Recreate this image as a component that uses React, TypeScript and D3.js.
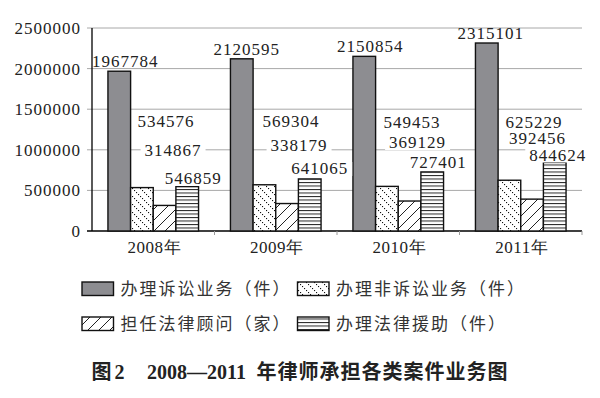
import React from "react";
import * as d3 from "d3";

const years = ["2008年", "2009年", "2010年", "2011年"];
const seriesNames = ["办理诉讼业务（件）", "办理非诉讼业务（件）", "担任法律顾问（家）", "办理法律援助（件）"];
const litigation = [1967784, 2120595, 2150854, 2315101];
const nonLitigation = [534576, 569304, 549453, 625229];
const counsel = [314867, 338179, 369129, 392456];
const legalAid = [546859, 641065, 727401, 844624];
const yTicks = [0, 500000, 1000000, 1500000, 2000000, 2500000];

// label anchors (in value units) as placed in the original figure
const labelAtNonLit = [1280000, 1280000, 1268000, 1268000];
const labelAtCounsel = [924000, 991000, 1022000, 1071000];
const labelAtAid = [579000, 702000, 776000, 868000];
const labelDx = [
  [6, 5, 6, 4],
  [24, 26.5, 25, 24.6],
  [8.5, 12, 8, 5.5],
  [6, 10, 6, 3],
];

const W = 600;
const H = 398;
const serif = "'Liberation Serif', 'Times New Roman', serif";
const cjk = "'Noto Sans CJK SC', 'Noto Sans', sans-serif";
const darkFill = "#8d8d91";

export default function App() {
  const series = [litigation, nonLitigation, counsel, legalAid];
  const fills = [darkFill, "url(#pDots)", "url(#pSlash)", "url(#pHoriz)"];
  const labelAt = [litigation.map((v) => v + 50000), labelAtNonLit, labelAtCounsel, labelAtAid];

  const x = d3.scaleBand<string>().domain(years).range([92, 582]).padding(0);
  const inner = d3
    .scaleBand<number>()
    .domain([0, 1, 2, 3])
    .range([0, x.bandwidth()])
    .paddingInner(0)
    .paddingOuter(0.704);
  const y = d3.scaleLinear().domain([0, 2500000]).range([231, 28]);

  const fmt = (v: number) => String(v);
  const digitW = 9.5;

  const legendItems = [
    { x: 82, y: 282, fill: fills[0], name: seriesNames[0] },
    { x: 297.5, y: 282, fill: fills[1], name: seriesNames[1] },
    { x: 82, y: 317, fill: fills[2], name: seriesNames[2] },
    { x: 297.5, y: 317, fill: fills[3], name: seriesNames[3] },
  ];

  return (
    <svg width={W} height={H} style={{ position: "absolute", left: 0, top: 0, background: "#fff" }}>
      <defs>
        <pattern id="pDots" patternUnits="userSpaceOnUse" width={8} height={8}>
          <rect width={8} height={8} fill="#fff" />
          <rect x={0} y={0} width={1.1} height={1.1} fill="#111" />
          <rect x={2} y={2} width={1.1} height={1.1} fill="#111" />
          <rect x={4} y={4} width={1.1} height={1.1} fill="#111" />
          <rect x={6} y={6} width={1.1} height={1.1} fill="#111" />
        </pattern>
        <pattern id="pSlash" patternUnits="userSpaceOnUse" width={11} height={11}>
          <rect width={11} height={11} fill="#fff" />
          <path d="M0,11 L11,0 M-2,2 L2,-2 M9,13 L13,9" stroke="#222" strokeWidth={1} />
        </pattern>
        <pattern id="pHoriz" patternUnits="userSpaceOnUse" width={10} height={3.5}>
          <rect width={10} height={3.5} fill="#fff" />
          <rect x={0} y={0} width={10} height={1} fill="#222" />
        </pattern>
      </defs>

      {/* gridlines */}
      {yTicks.map((t) => (
        <line key={"g" + t} x1={87} x2={582} y1={y(t)} y2={y(t)} stroke={t === 0 ? "#000" : "#a8a8a8"} strokeWidth={t === 0 ? 1.3 : 1} />
      ))}
      {/* y axis */}
      <line x1={92} x2={92} y1={y(2500000)} y2={y(0)} stroke="#000" strokeWidth={1.3} />
      {yTicks.map((t) => (
        <text key={"yt" + t} x={81} y={y(t) + 6} textAnchor="end" fontFamily={serif} fontSize={17} letterSpacing={1} fill="#222">
          {fmt(t)}
        </text>
      ))}
      {/* category ticks */}
      {years.map((yr, i) => (
        <line key={"ct" + i} x1={(x(yr) as number) + x.bandwidth()} x2={(x(yr) as number) + x.bandwidth()} y1={231} y2={235} stroke="#999" />
      ))}
      {years.map((yr) => (
        <text key={"cl" + yr} x={(x(yr) as number) + x.bandwidth() / 2 + 1} y={253} textAnchor="middle" fontFamily={serif} fontSize={17} letterSpacing={0.5} fill="#222">
          {yr}
        </text>
      ))}

      {/* bars */}
      {series.map((vals, s) =>
        vals.map((v, i) => {
          const bx = (x(years[i]) as number) + (inner(s) as number);
          return (
            <rect
              key={"b" + s + "-" + i}
              x={bx}
              y={y(v)}
              width={inner.bandwidth()}
              height={y(0) - y(v)}
              fill={fills[s]}
              stroke="#111"
              strokeWidth={1.4}
            />
          );
        })
      )}

      {/* value labels */}
      {series.map((vals, s) =>
        vals.map((v, i) => {
          const cx = (x(years[i]) as number) + (inner(s) as number) + inner.bandwidth() / 2 + labelDx[s][i];
          const by = y(labelAt[s][i]);
          const txt = fmt(v);
          const tw = txt.length * digitW;
          return (
            <g key={"l" + s + "-" + i}>
              {s > 0 && <rect x={cx - tw / 2 - 4} y={by - 12} width={tw + 8} height={14} fill="#fff" />}
              <text x={cx} y={by} textAnchor="middle" fontFamily={serif} fontSize={17} letterSpacing={1} fill="#222">
                {txt}
              </text>
            </g>
          );
        })
      )}

      {/* legend */}
      {legendItems.map((it, k) => (
        <g key={"lg" + k}>
          <rect x={it.x} y={it.y} width={31.5} height={13.5} fill={it.fill} stroke="#111" strokeWidth={1.4} />
          <text x={it.x + 38.5} y={it.y + 13} fontFamily={cjk} fontSize={17} letterSpacing={2} fill="#333">
            {it.name}
          </text>
        </g>
      ))}

      {/* title */}
      <text y={379} fontWeight="bold" fill="#222" fontSize={20}>
        <tspan x={91.5} fontFamily={cjk}>图</tspan>
        <tspan x={114.5} fontFamily={serif}>2</tspan>
        <tspan x={147} fontFamily={serif}>2008—2011</tspan>
        <tspan x={256.5} fontFamily={cjk} letterSpacing={1}>年律师承担各类案件业务图</tspan>
      </text>
    </svg>
  );
}
